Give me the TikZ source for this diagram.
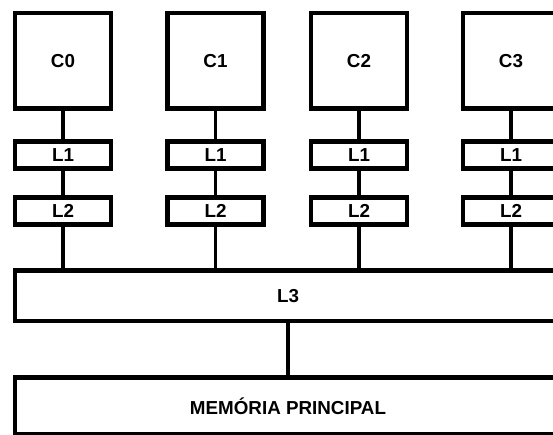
\documentclass[tikz,border=0pt]{standalone}
\usepackage{fontspec}
\setmainfont{Liberation Sans}
\usepackage{tikz}
\usetikzlibrary{positioning}

\begin{document}
\begin{tikzpicture}[
    every node/.style={rectangle, draw, line width=2.6pt, inner sep=0pt,
      font=\bfseries\fontsize{10.7}{12}\selectfont},
    core/.style={minimum width=1.92cm, minimum height=1.91cm},
    cache/.style={minimum width=1.92cm, minimum height=0.54cm},
    wide/.style={minimum width=10.92cm},
    line width=1.9pt,
  ]
  \clip (0,0) rectangle (11.06,8.68);

  \node[core] (c0) at (1.26, 7.465)  {C0};
  \node[core] (c1) at (4.31, 7.465)  {C1};
  \node[core] (c2) at (7.18, 7.465)  {C2};
  \node[core] (c3) at (10.22, 7.465) {C3};

  \node[cache] (l1c0) at (1.26, 5.58)  {L1};
  \node[cache] (l1c1) at (4.31, 5.58)  {L1};
  \node[cache] (l1c2) at (7.18, 5.58)  {L1};
  \node[cache] (l1c3) at (10.22, 5.58) {L1};

  \node[cache] (l2c0) at (1.26, 4.46)  {L2};
  \node[cache] (l2c1) at (4.31, 4.46)  {L2};
  \node[cache] (l2c2) at (7.18, 4.46)  {L2};
  \node[cache] (l2c3) at (10.22, 4.46) {L2};

  \node[wide, minimum height=1.01cm] (l3) at (5.76, 2.765) {L3};
  \node[wide, minimum height=1.15cm] (mem) at (5.76, 0.56) {MEMÓRIA PRINCIPAL};

  \draw (c0) -- (l1c0);
  \draw (c1) -- (l1c1);
  \draw (c2) -- (l1c2);
  \draw (c3) -- (l1c3);
  \draw (l1c0) -- (l2c0);
  \draw (l1c1) -- (l2c1);
  \draw (l1c2) -- (l2c2);
  \draw (l1c3) -- (l2c3);
  \draw (l2c0) -- (l2c0 |- l3.north);
  \draw (l2c1) -- (l2c1 |- l3.north);
  \draw (l2c2) -- (l2c2 |- l3.north);
  \draw (l2c3) -- (l2c3 |- l3.north);

  \draw[line width=2.3pt] (l3) -- (mem);

\end{tikzpicture}
\end{document}
